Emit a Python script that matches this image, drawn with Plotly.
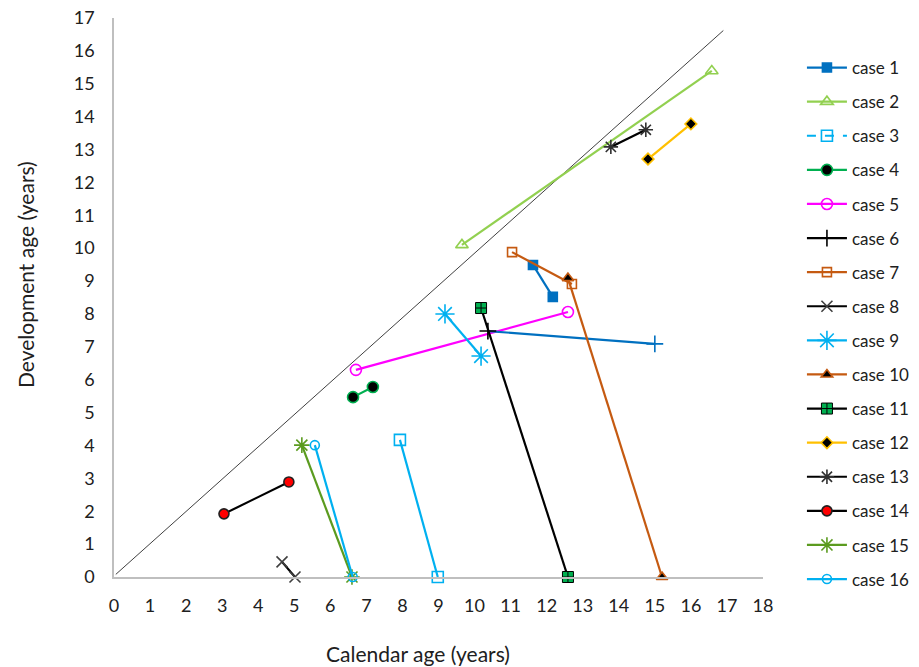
import plotly.graph_objects as go

# ---- data (calendar age x, development age y) ----
cases = [f"case {i}" for i in range(1, 17)]
case1_x = [11.62, 12.17];  case1_y = [9.49, 8.52]
case2_x = [9.65, 16.58];   case2_y = [10.1, 15.39]
case3_x = [7.93, 8.98];    case3_y = [4.17, 0.0]
case4_x = [6.63, 7.18];    case4_y = [5.47, 5.78]
case5_x = [6.71, 12.59];   case5_y = [6.3, 8.06]
case6_x = [10.37, 15.0];   case6_y = [7.48, 7.09]
case7_x = [11.04, 12.7];   case7_y = [9.88, 8.91]
case8_x = [4.66, 5.02];    case8_y = [0.46, 0.0]
case9_x = [9.18, 10.18];   case9_y = [8.0, 6.72]
case10_x = [12.59, 15.2];  case10_y = [9.09, 0.0]
case11_x = [10.18, 12.59]; case11_y = [8.18, 0.0]
case12_x = [14.81, 16.0];  case12_y = [12.71, 13.78]
case13_x = [13.78, 14.75]; case13_y = [13.08, 13.6]
case14_x = [3.05, 4.85];   case14_y = [1.92, 2.89]
case15_x = [5.21, 6.6];    case15_y = [4.01, 0.0]
case16_x = [5.57, 6.62];   case16_y = [4.01, 0.0]
diag_x = [0.05, 16.9]
diag_y = [0.08, 16.62]
x_ticks = list(range(0, 19))
y_ticks = list(range(0, 18))

xs = [case1_x, case2_x, case3_x, case4_x, case5_x, case6_x, case7_x, case8_x,
      case9_x, case10_x, case11_x, case12_x, case13_x, case14_x, case15_x, case16_x]
ys = [case1_y, case2_y, case3_y, case4_y, case5_y, case6_y, case7_y, case8_y,
      case9_y, case10_y, case11_y, case12_y, case13_y, case14_y, case15_y, case16_y]

# ---- styles ----
BLUE = "#0070C0"; LGREEN = "#92D050"; CYAN = "#00B0F0"; GREEN = "#00B050"
MAG = "#FF00FF"; BROWN = "#C55A11"; ORANGE = "#FFC000"; OLIVE = "#5B9B1F"
styles = [
    dict(line=BLUE, sym="square", mc=BLUE, ml=BLUE, size=9),
    dict(line=LGREEN, sym="triangle-up-open", mc=LGREEN, ml=LGREEN, size=11),
    dict(line=CYAN, sym="square-open", mc=CYAN, ml=CYAN, size=11),
    dict(line=GREEN, sym="circle", mc="black", ml=GREEN, size=11),
    dict(line=MAG, sym="circle-open", mc=MAG, ml=MAG, size=11),
    dict(line=BLUE, sym="cross-thin-open", mc=["black", BLUE], ml=["black", BLUE], size=12),
    dict(line=BROWN, sym="square-open", mc=BROWN, ml=BROWN, size=9),
    dict(line="black", sym="x-thin-open", mc="#404040", ml="#404040", size=11),
    dict(line=CYAN, sym="asterisk-open", mc=CYAN, ml=CYAN, size=16),
    dict(line=BROWN, sym="triangle-up", mc="black", ml=BROWN, size=10),
    dict(line="black", sym="square-cross", mc=GREEN, ml="black", size=11),
    dict(line=ORANGE, sym="diamond", mc="black", ml=ORANGE, size=9),
    dict(line="black", sym="asterisk-open", mc="#303030", ml="#303030", size=12),
    dict(line="black", sym="circle", mc="#FF0000", ml="#202020", size=10),
    dict(line=OLIVE, sym="asterisk-open", mc=OLIVE, ml=OLIVE, size=13),
    dict(line=CYAN, sym="circle-open", mc=CYAN, ml=CYAN, size=9),
]
# legend-only appearance where legend differs from plotted line
legend_override = {
    2: dict(line=CYAN, dash="dash", sym="square-open", mc=CYAN, ml=CYAN, size=11),
    5: dict(line="black", dash="solid", sym="cross-thin-open", mc="black", ml="black", size=12),
}

FONT = "Lato, Open Sans, sans-serif"
fig = go.Figure()

fig.add_trace(go.Scatter(x=diag_x, y=diag_y, mode="lines",
                         line=dict(color="#404040", width=1), showlegend=False,
                         hoverinfo="skip"))

for i, (name, x, y, s) in enumerate(zip(cases, xs, ys, styles)):
    has_override = i in legend_override
    mlw = 1 if s["sym"] == "square-cross" else 1.6
    fig.add_trace(go.Scatter(
        x=x, y=y, mode="lines+markers", name=name, legendgroup=name,
        showlegend=not has_override, cliponaxis=False,
        line=dict(color=s["line"], width=2.2),
        marker=dict(symbol=s["sym"], color=s["mc"], size=s["size"],
                    line=dict(color=s["ml"], width=mlw)),
    ))
    if has_override:
        o = legend_override[i]
        fig.add_trace(go.Scatter(
            x=[None], y=[None], mode="lines+markers", name=name, legendgroup=name,
            showlegend=True,
            line=dict(color=o["line"], width=2.2, dash=o["dash"]),
            marker=dict(symbol=o["sym"], color=o["mc"], size=o["size"],
                        line=dict(color=o["ml"], width=1.6)),
        ))

W, H = 919, 667
L, R, T, B = 114, 156, 18, 90
pw, ph = W - L - R, H - T - B
bottom = H - B  # y pixel of the x axis

fig.update_layout(
    width=W, height=H,
    margin=dict(l=L, r=R, t=T, b=B, autoexpand=False),
    paper_bgcolor="white", plot_bgcolor="white",
    font=dict(family=FONT, size=18, color="#202020"),
    legend=dict(x=1.06, y=(bottom - 50) / ph, xanchor="left", yanchor="top",
                traceorder="grouped", tracegroupgap=9,
                font=dict(size=17, color="#202020"),
                bgcolor="rgba(0,0,0,0)", itemwidth=40),
    xaxis=dict(range=[0, 18], tickvals=x_ticks, ticktext=[str(v) for v in x_ticks],
               showgrid=False, zeroline=False, showline=True, linecolor="#BFBFBF",
               linewidth=1.5, ticks="", ticklabelstandoff=12, automargin=False,
               ticklabeloverflow="allow", tickfont=dict(size=18)),
    yaxis=dict(range=[0, 17], tickvals=y_ticks, ticktext=[str(v) for v in y_ticks],
               showgrid=False, zeroline=False, showline=True, linecolor="#BFBFBF",
               linewidth=1.5, ticks="", ticklabelstandoff=14, automargin=False,
               ticklabeloverflow="allow", tickfont=dict(size=18)),
    annotations=[
        dict(text="Calendar age (years)", x=(418 - L) / pw, y=(bottom - 653) / ph,
             xref="paper", yref="paper", xanchor="center", yanchor="middle",
             showarrow=False, font=dict(size=21, color="#202020")),
        dict(text="Development age (years)", x=(25 - L) / pw, y=(bottom - 275) / ph,
             xref="paper", yref="paper", xanchor="center", yanchor="middle",
             textangle=-90, showarrow=False, font=dict(size=21, color="#202020")),
    ],
)

fig.write_html("out.html", config={"displayModeBar": False},
               post_script="document.body.style.margin='0';document.body.style.overflow='hidden';")
